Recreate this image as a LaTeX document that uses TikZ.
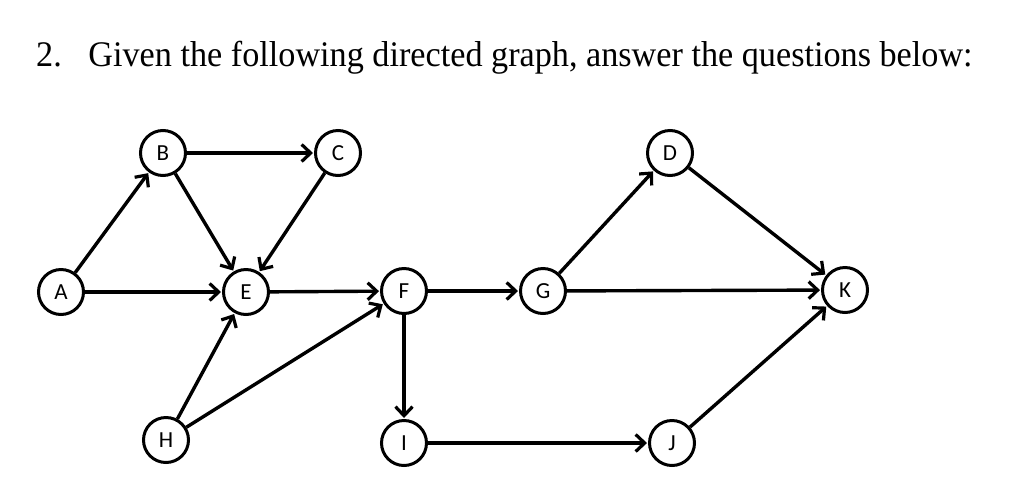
\documentclass[tikz,border=0pt]{standalone}
\usepackage{fontspec}
\setmainfont{Liberation Serif}
\newfontfamily\nodefont{Carlito}
\usetikzlibrary{arrows.meta}
\begin{document}
\begin{tikzpicture}[x=1pt,y=-1pt,
  vtx/.style={circle,draw,line width=3pt,minimum size=45pt,inner sep=0pt,font=\nodefont\fontsize{23}{23}\selectfont},
  edge/.style={line width=3.4pt,-{Straight Barb[length=9pt,width=17pt,line width=3.2pt]},shorten >=1pt}]
\useasboundingbox (0,0) rectangle (1024,496);
\node[anchor=west,font=\fontsize{36}{40}\selectfont,inner sep=0pt] (title) at (36,58) {\scalebox{0.95}[1]{2.\hspace{28pt}Given the following directed graph, answer the questions below:}};
\node[vtx] (A) at (61,292) {A};
\node[vtx] (B) at (163,153) {B};
\node[vtx] (C) at (338,153) {C};
\node[vtx] (E) at (246,292) {E};
\node[vtx] (F) at (404,291) {F};
\node[vtx] (G) at (543,291) {G};
\node[vtx] (D) at (670,153) {D};
\node[vtx] (K) at (845,290) {K};
\node[vtx] (H) at (166,440) {H};
\node[vtx] (I) at (404,443) {I};
\node[vtx] (J) at (672,443) {J};
\draw[edge] (A) -- (B);
\draw[edge] (A) -- (E);
\draw[edge] (B) -- (C);
\draw[edge] (B) -- (E);
\draw[edge] (C) -- (E);
\draw[edge] (E) -- (F);
\draw[edge] (H) -- (E);
\draw[edge] (H) -- (F);
\draw[edge] (F) -- (G);
\draw[edge] (F) -- (I);
\draw[edge] (G) -- (D);
\draw[edge] (G) -- (K);
\draw[edge] (D) -- (K);
\draw[edge] (I) -- (J);
\draw[edge] (J) -- (K);
\end{tikzpicture}
\end{document}
